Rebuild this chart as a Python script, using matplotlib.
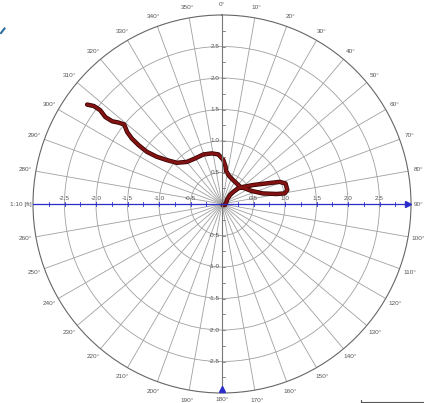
import numpy as np
import matplotlib
matplotlib.use("Agg")
import matplotlib.pyplot as plt
import matplotlib.patheffects as pe
from matplotlib.lines import Line2D

plt.rcParams['font.family'] = ['Liberation Sans', 'DejaVu Sans']

# track: bearing in degrees (clockwise from north) and distance in ft
theta_deg = [306.4, 307.4, 307.6, 306.7, 307.0, 308.2, 309.1, 307.2, 306.0, 305.2,
             304.8, 305.9, 308.5, 312.4, 320.2, 329.4, 339.4, 348.5, 355.7, 1.7,
             5.3, 6.9, 14.0, 24.6, 36.9, 48.2, 55.7, 65.9, 75.5, 79.6,
             80.4, 77.9, 72.1, 69.0, 65.2, 58.7, 50.9, 46.1, 42.6, 41.6,
             48.4, 72.0, 108.0, 145.0]
radius = [2.66, 2.56, 2.44, 2.31, 2.18, 2.09, 2.00, 1.89, 1.77, 1.62,
          1.45, 1.28, 1.12, 0.97, 0.87, 0.84, 0.84, 0.82, 0.79, 0.70,
          0.60, 0.53, 0.46, 0.42, 0.40, 0.40, 0.44, 0.51, 0.67, 0.88,
          1.01, 1.06, 1.06, 0.98, 0.78, 0.58, 0.43, 0.36, 0.26, 0.19,
          0.11, 0.07, 0.05, 0.02]

angles = list(range(0, 360, 10))
angle_labels = [f"{a}°" for a in angles]
angle_labels[27] = "1:10 [ft]"
axis_ticks = [-2.5, -2.0, -1.5, -1.0, -0.5, 0.5, 1.0, 1.5, 2.0, 2.5]
minor_ticks = [t / 4 for t in range(-11, 12) if t != 0]

W, H = 424, 403
fig = plt.figure(figsize=(W / 100, H / 100), dpi=100)
rect = [33 / W, 10 / H, 378 / W, 378 / H]

# polar grid
ax = fig.add_axes(rect, projection='polar')
ax.set_theta_zero_location('N')
ax.set_theta_direction(-1)
ax.set_rlim(0, 3)
ax.set_thetagrids(angles, labels=[])
ax.set_rgrids([0.5, 1.0, 1.5, 2.0, 2.5], labels=[])
ax.grid(color='#a0a0a0', lw=0.6)
ax.spines['polar'].set_color('#666666')
ax.spines['polar'].set_linewidth(0.8)

txt = dict(fontsize=4.6, color='#555555')
for a, lab in zip(angles, angle_labels):
    if a == 270:
        ax.text(np.deg2rad(a), 3.02, lab, ha='right', va='center', **txt)
    elif a == 90:
        ax.text(np.deg2rad(a), 3.04, lab, ha='left', va='center', **txt)
    elif a == 180:
        ax.text(np.deg2rad(a), 3.1, lab, ha='center', va='center', **txt)
    else:
        ax.text(np.deg2rad(a), 3.17, lab, ha='center', va='center', **txt)

th = np.unwrap(np.deg2rad(theta_deg))
ax.plot(th, radius, color='#831212', lw=2.0, solid_capstyle='round',
        solid_joinstyle='round',
        path_effects=[pe.Stroke(linewidth=3.2, foreground='#3a0505'), pe.Normal()],
        zorder=5)

# cartesian scale axes on top
ax2 = fig.add_axes(rect, facecolor='none')
ax2.set_xlim(-3, 3)
ax2.set_ylim(-3, 3)
ax2.axis('off')

ax2.plot([0, 0], [-3, 3], color='#777777', lw=0.8)
ax2.plot([-3, 2.95], [0, 0], color='#2b2bcc', lw=0.9)
ax2.plot([2.95], [0], marker='>', ms=4, color='#2b2bcc')
ax2.plot([0], [-2.93], marker='^', ms=4, color='#2b2bcc')

for t in minor_ticks:
    ax2.plot([t, t], [-0.025, 0.025], color='#2b2bcc', lw=0.6)
    ax2.plot([0, 0.045], [t, t], color='#777777', lw=0.6)

for t in axis_ticks:
    ax2.text(t, 0.09, f"{t:.1f}", ha='center', va='center', **txt)
    ax2.text(-0.04, t, f"{t:.1f}", ha='right', va='center', **txt)

# small marks around the frame
fig.add_artist(Line2D([1 / W, 4.5 / W], [1 - 33 / H, 1 - 28.5 / H], color='#2d6c9c', lw=1.5))
fig.add_artist(Line2D([361 / W, 1], [1 - 401.5 / H, 1 - 401.5 / H], color='#555555', lw=0.8))
fig.add_artist(Line2D([361 / W, 361 / W], [1 - 401.5 / H, 1 - 399.5 / H], color='#555555', lw=0.8))

fig.savefig('out.png', dpi=100)
